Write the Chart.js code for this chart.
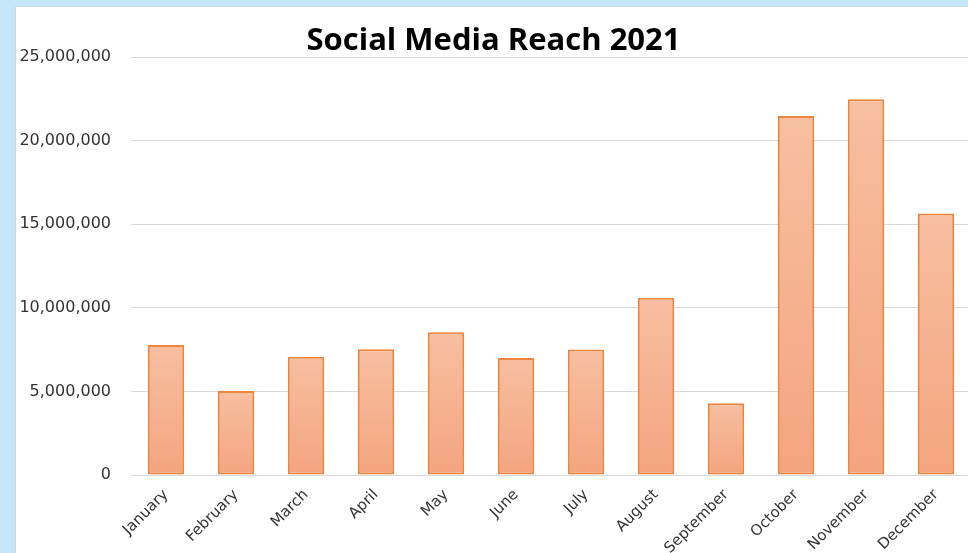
<!DOCTYPE html>
<html>
<head>
<meta charset="utf-8">
<script src="https://cdn.jsdelivr.net/npm/chart.js@4"></script>
<style>
  html, body { margin: 0; padding: 0; width: 968px; height: 553px; overflow: hidden; background: #c6e7f7; }
  #box { position: absolute; left: 15px; top: 6px; width: 970px; height: 560px; background: #ffffff; border-left: 1px solid #d6d6d6; border-top: 1px solid #d6d6d6; }
  #wrap { position: absolute; left: 0; top: 0; width: 955px; height: 547px; }
</style>
</head>
<body>
<div id="box"><div id="wrap"><canvas id="c"></canvas></div></div>
<script>
const chartTitle = 'Social Media Reach 2021';
const months = ['January','February','March','April','May','June','July','August','September','October','November','December'];
const reach = [7780000, 5020000, 7080000, 7520000, 8540000, 7000000, 7510000, 10600000, 4300000, 21480000, 22490000, 15640000];
const yTicks = [0, 5000000, 10000000, 15000000, 20000000, 25000000];

function barGradient(ctx) {
  const chart = ctx.chart;
  const ys = chart.scales && chart.scales.y;
  if (!ys || ctx.parsed === undefined || ctx.parsed === null) return '#f5b08e';
  const top = ys.getPixelForValue(ctx.parsed.y);
  const bottom = ys.getPixelForValue(0);
  if (!isFinite(top) || !isFinite(bottom) || top === bottom) return '#f5b08e';
  const g = chart.ctx.createLinearGradient(0, top, 0, bottom);
  g.addColorStop(0, '#f7bfa1');
  g.addColorStop(1, '#f4a47f');
  return g;
}

new Chart(document.getElementById('c'), {
  type: 'bar',
  data: {
    labels: months,
    datasets: [{
      data: reach,
      backgroundColor: barGradient,
      borderColor: '#ee853f',
      borderWidth: 2,
      borderSkipped: false,
      barPercentage: 0.52,
      categoryPercentage: 1
    }]
  },
  options: {
    responsive: true,
    maintainAspectRatio: false,
    animation: false,
    layout: { padding: 0 },
    plugins: {
      legend: { display: false },
      tooltip: { enabled: false },
      title: {
        display: true,
        text: chartTitle,
        color: '#000000',
        font: { family: 'Open Sans', size: 31, weight: 'bold' },
        padding: { top: 16, bottom: -3 }
      }
    },
    scales: {
      x: {
        grid: { display: false },
        border: { display: false },
        ticks: {
          color: '#333333',
          font: { family: 'DejaVu Sans', size: 15 },
          maxRotation: 45,
          minRotation: 45,
          autoSkip: false,
          padding: 3
        },
        afterFit: (s) => { s.height = 79; }
      },
      y: {
        min: 0,
        max: 25000000,
        afterBuildTicks: (s) => { s.ticks = yTicks.map(v => ({ value: v })); },
        grid: { color: '#d9d9d9', lineWidth: 1, drawTicks: false },
        border: { display: false },
        ticks: {
          color: '#333333',
          font: { family: 'DejaVu Sans', size: 16 },
          padding: 20,
          callback: (v) => Number(v).toLocaleString('en-US')
        },
        afterFit: (s) => { s.width = 115; }
      }
    }
  }
});
</script>
</body>
</html>
